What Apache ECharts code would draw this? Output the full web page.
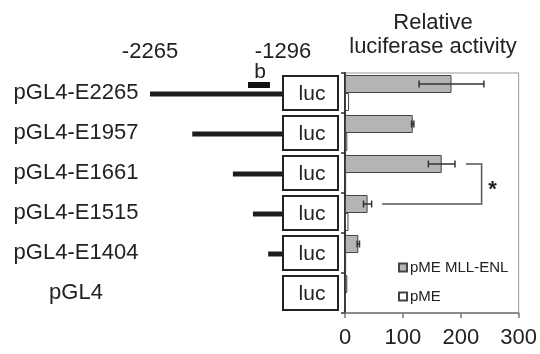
<!DOCTYPE html>
<html>
<head>
<meta charset="utf-8">
<script src="https://cdn.jsdelivr.net/npm/echarts@6/dist/echarts.min.js"></script>
<style>
  html, body { margin: 0; padding: 0; background: #fff; }
  #chart { width: 540px; height: 354px; }
</style>
</head>
<body>
<div id="chart"></div>
<script>
// constructs, top to bottom
const constructs = ['pGL4-E2265', 'pGL4-E1957', 'pGL4-E1661', 'pGL4-E1515', 'pGL4-E1404', 'pGL4'];
// promoter fragment start (bp), all end at -1296
const promoterStart = [-2265, -1957, -1661, -1515, -1404, null];
const promoterEnd = -1296;
const positionTicks = [-2265, -1296];
const regionB = [-1551, -1391];

// relative luciferase activity
const mllEnl = [184, 117, 167, 39, 23, 4];
const mllEnlErr = [56, 2, 23, 7, 2, 0];
const pME = [7, 4, 2, 6, 2, 1];
const activityTicks = [0, 100, 200, 300];

// significance bracket between E1661 and E1515 (activity units)
const bracketRows = [2, 3];
const bracketX = [209, 236, 64];

const FONT = '"Liberation Sans", Arial, sans-serif';
const INK = '#222';
const BAR_W = 18;

const chart = echarts.init(document.getElementById('chart'));

const option = {
  animation: false,
  textStyle: { fontFamily: FONT },
  title: {
    text: 'Relative\nluciferase activity',
    left: 428,
    top: 6,
    textAlign: 'center',
    textStyle: { fontFamily: FONT, fontSize: 22, fontWeight: 'normal', color: INK, lineHeight: 24 }
  },
  legend: {
    orient: 'vertical',
    left: 393,
    top: 255,
    itemWidth: 8,
    itemHeight: 8,
    itemGap: 14,
    icon: 'rect',
    textStyle: { fontFamily: FONT, fontSize: 15, color: INK, padding: [0, 0, 0, -2] },
    data: ['pME MLL-ENL', 'pME']
  },
  grid: [
    { left: 150, width: 133, top: 73, height: 240 },
    { left: 345, width: 174, top: 73, height: 240, show: true, borderColor: '#999', borderWidth: 1 }
  ],
  xAxis: [
    {
      gridIndex: 0, type: 'value', position: 'top',
      min: -2265, max: -1296,
      axisLine: { show: false }, axisTick: { show: false }, splitLine: { show: false },
      axisLabel: {
        customValues: positionTicks,
        formatter: v => String(v),
        margin: 10, fontSize: 22, color: INK, fontFamily: FONT
      }
    },
    {
      gridIndex: 1, type: 'value',
      min: activityTicks[0], max: activityTicks[activityTicks.length - 1], interval: 100,
      axisLine: { show: true, lineStyle: { color: '#777', width: 1.5 } },
      axisTick: { show: true, length: 5, lineStyle: { color: '#777', width: 1.5 } },
      splitLine: { show: false },
      axisLabel: { margin: 14, fontSize: 22, color: INK, fontFamily: FONT }
    }
  ],
  yAxis: [
    {
      gridIndex: 0, type: 'category', data: constructs, inverse: true,
      axisLine: { show: false }, axisTick: { show: false },
      axisLabel: { align: 'center', margin: 74, fontSize: 22, color: INK, fontFamily: FONT }
    },
    {
      gridIndex: 1, type: 'category', data: constructs, inverse: true,
      axisLine: { show: true, lineStyle: { color: '#333', width: 2 } },
      axisTick: { show: true, length: 4, lineStyle: { color: '#333', width: 1.5 } },
      axisLabel: { show: false }
    }
  ],
  series: [
    {
      // promoter fragments
      type: 'custom', xAxisIndex: 0, yAxisIndex: 0, z: 2,
      data: promoterStart.map((s, i) => [s, promoterEnd, i]).filter(d => d[0] !== null),
      renderItem: (params, api) => {
        const a = api.coord([api.value(0), api.value(2)]);
        const b = api.coord([api.value(1), api.value(2)]);
        return {
          type: 'line',
          shape: { x1: a[0], y1: a[1] + 1, x2: b[0], y2: b[1] + 1 },
          style: { stroke: '#1c1c1c', lineWidth: 5 }
        };
      }
    },
    {
      // luc reporter boxes
      type: 'custom', xAxisIndex: 0, yAxisIndex: 0, z: 3,
      data: constructs.map((c, i) => [promoterEnd, i]),
      renderItem: (params, api) => {
        const p = api.coord([api.value(0), api.value(1)]);
        return {
          type: 'group',
          children: [
            {
              type: 'rect',
              shape: { x: p[0], y: p[1] - 17, width: 55, height: 34 },
              style: { fill: '#fff', stroke: INK, lineWidth: 2 }
            },
            {
              type: 'text',
              style: {
                x: p[0] + 29, y: p[1] + 1, text: 'luc', align: 'center', verticalAlign: 'middle',
                font: '21px ' + FONT, fill: INK
              }
            }
          ]
        };
      }
    },
    {
      // region b
      type: 'custom', xAxisIndex: 0, yAxisIndex: 0, z: 3,
      data: [[regionB[0], regionB[1], 0]],
      renderItem: (params, api) => {
        const a = api.coord([api.value(0), api.value(2)]);
        const b = api.coord([api.value(1), api.value(2)]);
        return {
          type: 'group',
          children: [
            {
              type: 'rect',
              shape: { x: a[0], y: a[1] - 11, width: b[0] - a[0], height: 6 },
              style: { fill: '#111' }
            },
            {
              type: 'text',
              style: {
                x: (a[0] + b[0]) / 2 + 1, y: a[1] - 21, text: 'b', align: 'center', verticalAlign: 'middle',
                font: '21px ' + FONT, fill: INK
              }
            }
          ]
        };
      }
    },
    {
      name: 'pME MLL-ENL', type: 'bar', xAxisIndex: 1, yAxisIndex: 1,
      barWidth: BAR_W, barGap: '0%',
      itemStyle: { color: '#b5b5b5', borderColor: '#444', borderWidth: 1 },
      data: mllEnl
    },
    {
      name: 'pME', type: 'bar', xAxisIndex: 1, yAxisIndex: 1,
      barWidth: BAR_W, barGap: '0%',
      itemStyle: { color: '#fff', borderColor: '#444', borderWidth: 1 },
      data: pME
    },
    {
      // error bars on MLL-ENL bars
      type: 'custom', xAxisIndex: 1, yAxisIndex: 1, z: 5,
      data: mllEnl.map((v, i) => [v - mllEnlErr[i], v + mllEnlErr[i], i]).filter(d => d[1] > d[0]),
      renderItem: (params, api) => {
        const lo = api.coord([api.value(0), api.value(2)]);
        const hi = api.coord([api.value(1), api.value(2)]);
        const y = lo[1] - BAR_W / 2;
        const st = { stroke: '#333', lineWidth: 1.5 };
        return {
          type: 'group',
          children: [
            { type: 'line', shape: { x1: lo[0], y1: y, x2: hi[0], y2: y }, style: st },
            { type: 'line', shape: { x1: lo[0], y1: y - 3.5, x2: lo[0], y2: y + 3.5 }, style: st },
            { type: 'line', shape: { x1: hi[0], y1: y - 3.5, x2: hi[0], y2: y + 3.5 }, style: st }
          ]
        };
      }
    },
    {
      // significance bracket
      type: 'custom', xAxisIndex: 1, yAxisIndex: 1, z: 5,
      data: [[bracketX[0], bracketX[1], bracketX[2], bracketRows[0], bracketRows[1]]],
      renderItem: (params, api) => {
        const t = api.coord([api.value(0), api.value(3)]);
        const r = api.coord([api.value(1), api.value(3)]);
        const b = api.coord([api.value(2), api.value(4)]);
        const y1 = t[1] - BAR_W / 2;
        const y2 = b[1] - BAR_W / 2;
        return {
          type: 'group',
          children: [
            {
              type: 'polyline',
              shape: { points: [[t[0], y1], [r[0], y1], [r[0], y2], [b[0], y2]] },
              style: { stroke: '#555', lineWidth: 1.5, fill: null }
            },
            {
              type: 'text',
              style: {
                x: r[0] + 11, y: (y1 + y2) / 2 + 6, text: '*', align: 'center', verticalAlign: 'middle',
                font: 'bold 22px ' + FONT, fill: INK
              }
            }
          ]
        };
      }
    }
  ]
};

chart.setOption(option);
</script>
</body>
</html>
